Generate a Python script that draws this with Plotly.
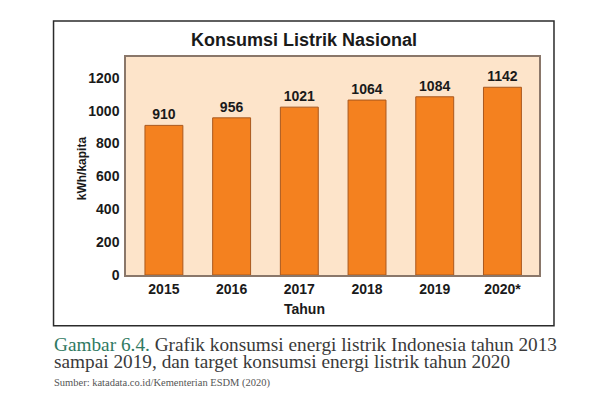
import plotly.graph_objects as go

years = ["2015", "2016", "2017", "2018", "2019", "2020*"]
values = [910, 956, 1021, 1064, 1084, 1142]
y_ticks = [0, 200, 400, 600, 800, 1000, 1200]

title_text = "Konsumsi Listrik Nasional"
y_title = "kWh/kapita"
x_title = "Tahun"
caption_1 = ("<span style='color:#2F7A62'>Gambar 6.4.</span> "
             "Grafik konsumsi energi listrik Indonesia tahun 2013")
caption_2 = "sampai 2019, dan target konsumsi energi listrik tahun 2020"
source = "Sumber: katadata.co.id/Kementerian ESDM (2020)"

W, H = 600, 394
L, R, T, B = 117.5, 69.3, 49.3, 126.7
pw, ph = W - L - R, H - T - B


def px(x):
    return (x - L) / pw


def py(y):
    return (H - B - y) / ph


sans = "Liberation Sans, Arial, sans-serif"
serif = "Liberation Serif, Times New Roman, serif"
bold = dict(family=sans, size=14, color="#1a1a1a", weight="bold")

fig = go.Figure(go.Bar(
    x=years, y=values, width=0.56,
    marker=dict(color="#F4811F", line=dict(color="#A9581E", width=1)),
    text=[str(v) for v in values], textposition="outside",
    textfont=bold,
    cliponaxis=False,
))

fig.update_layout(
    width=W, height=H,
    margin=dict(l=L, r=R, t=T, b=B),
    paper_bgcolor="white", plot_bgcolor="#FDE4CA",
    showlegend=False,
    font=dict(family=sans, size=14, color="#1a1a1a"),
)
fig.update_xaxes(
    range=[-0.56, 5.54], showgrid=False, ticks="",
    showline=True, linecolor="#8A776A", linewidth=1.5, mirror=True,
    tickfont=bold,
)
fig.update_yaxes(
    range=[0, 1326], tickvals=y_ticks, showgrid=False, zeroline=False, ticks="",
    showline=True, linecolor="#8A776A", linewidth=1.5, mirror=True,
    tickfont=bold, ticklabelstandoff=2,
)

# outer frame
fig.add_shape(type="rect", xref="paper", yref="paper",
              x0=px(45), x1=px(545.7), y0=py(318), y1=py(13.3),
              line=dict(color="#2b2b2b", width=1.5), layer="below")

ann = [
    dict(text=title_text, x=px(295.4), y=py(32),
         font=dict(family=sans, size=18, color="#1a1a1a", weight="bold")),
    dict(text=y_title, x=px(73), y=py(161), textangle=-90,
         font=dict(family=sans, size=12, color="#1a1a1a", weight="bold")),
    dict(text=x_title, x=px(296), y=py(301),
         font=dict(family=sans, size=14, color="#1a1a1a", weight="bold")),
    dict(text=caption_1, x=px(43), y=py(336.5), xanchor="left",
         font=dict(family=serif, size=19.3, color="#3a3a3a")),
    dict(text=caption_2, x=px(43), y=py(354), xanchor="left",
         font=dict(family=serif, size=19.3, color="#3a3a3a")),
    dict(text=source, x=px(43), y=py(375.5), xanchor="left",
         font=dict(family=serif, size=10.5, color="#555555")),
]
for a in ann:
    a.setdefault("xanchor", "center")
    fig.add_annotation(xref="paper", yref="paper", yanchor="middle",
                       showarrow=False, **a)

fig.write_html("out.html")
